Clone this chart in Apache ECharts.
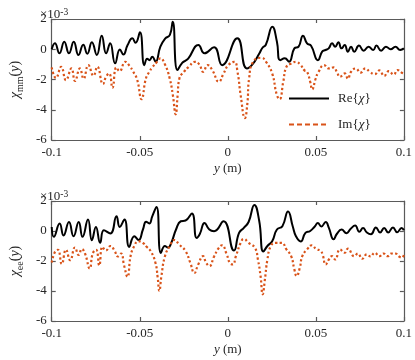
<!DOCTYPE html>
<html>
<head>
<meta charset="utf-8">
<script src="https://cdn.jsdelivr.net/npm/echarts@6/dist/echarts.min.js"></script>
<style>html,body{margin:0;padding:0;background:#fff}#c{width:415px;height:360px}</style>
</head>
<body>
<div id="c"></div>
<script>
// values in units of 1e-3
const xTicks = [-0.1, -0.05, 0, 0.05, 0.1];
const yTicks = [-6, -4, -2, 0, 2];
const seriesNames = ['Re{χ}', 'Im{χ}'];

const reTop = [[-0.1,0.0],[-0.0982,0.39],[-0.0956,-0.27],[-0.0929,0.50],[-0.0902,-0.27],[-0.0875,0.50],[-0.0848,-0.38],[-0.0821,0.30],[-0.0798,-0.30],[-0.0772,0.46],[-0.0744,-0.38],[-0.0716,0.90],[-0.0691,-0.27],[-0.0668,0.39],[-0.0640,-0.93],[-0.0613,-0.01],[-0.0593,-0.35],[-0.0569,0.28],[-0.0542,0.72],[-0.0524,0.43],[-0.0499,1.12],[-0.0474,-1.05],[-0.0458,-0.62],[-0.0445,-0.72],[-0.0429,-0.50],[-0.0410,-0.82],[-0.0383,0.17],[-0.0356,0.70],[-0.0329,0.95],[-0.0313,1.82],[-0.0286,-1.38],[-0.0259,-0.90],[-0.0240,-0.75],[-0.0224,-0.60],[-0.0167,0.28],[-0.0132,-0.27],[-0.0078,0.13],[-0.0032,-1.05],[0.0054,0.72],[0.0108,-1.27],[0.0140,-1.00],[0.0178,-0.30],[0.0197,0.10],[0.0216,0.30],[0.0253,1.49],[0.0279,0.50],[0.0297,-0.72],[0.0324,-0.60],[0.0348,-0.82],[0.0378,0.06],[0.0402,0.17],[0.0427,0.90],[0.0450,0.39],[0.0473,0.23],[0.0512,-0.72],[0.0536,-0.16],[0.0555,-0.05],[0.0573,0.06],[0.0592,0.39],[0.0610,0.17],[0.0628,0.46],[0.0646,0.06],[0.0664,0.28],[0.0682,-0.16],[0.0700,0.17],[0.0718,-0.16],[0.0745,0.24],[0.0772,-0.10],[0.0799,0.17],[0.0826,-0.05],[0.0844,0.24],[0.0871,-0.10],[0.0898,0.17],[0.0925,0.00],[0.0952,0.17],[0.0979,-0.05],[0.1,0.06]];

const imTop = [[-0.1,-1.2],[-0.0976,-1.9],[-0.0946,-1.16],[-0.0919,-2.04],[-0.0888,-1.27],[-0.0868,-2.1],[-0.0840,-1.27],[-0.0819,-1.95],[-0.0792,-1.05],[-0.0763,-1.75],[-0.0741,-1.15],[-0.0709,-2.3],[-0.0691,-1.8],[-0.0674,-1.6],[-0.0655,-2.55],[-0.0633,-1.2],[-0.0615,-1.45],[-0.0582,-0.83],[-0.0558,-1.1],[-0.0539,-1.45],[-0.0515,-2.0],[-0.0490,-3.3],[-0.0465,-1.93],[-0.0446,-1.5],[-0.0429,-1.2],[-0.0402,-0.83],[-0.0383,-0.6],[-0.0357,-1.0],[-0.0330,-1.93],[-0.0312,-3.04],[-0.0296,-4.3],[-0.0285,-3.04],[-0.0275,-1.93],[-0.0249,-1.49],[-0.0222,-1.16],[-0.0186,-0.83],[-0.0162,-1.0],[-0.0140,-1.49],[-0.0114,-1.05],[-0.0087,-1.4],[-0.0051,-2.15],[-0.0024,-1.6],[0.0003,-1.05],[0.0037,-0.83],[0.0055,-1.49],[0.0073,-3.04],[0.0097,-4.55],[0.0111,-3.6],[0.0121,-1.93],[0.0144,-0.83],[0.0190,-0.56],[0.0217,-0.83],[0.0252,-1.6],[0.0278,-3.0],[0.0294,-3.3],[0.0315,-2.15],[0.0333,-1.16],[0.0360,-0.94],[0.0387,-0.83],[0.0414,-1.05],[0.0434,-1.38],[0.0450,-1.49],[0.0468,-2.15],[0.0479,-2.65],[0.0499,-1.95],[0.0515,-1.5],[0.0547,-1.05],[0.0574,-1.27],[0.0601,-1.2],[0.0619,-1.49],[0.0637,-1.82],[0.0664,-1.6],[0.0682,-1.95],[0.0700,-1.49],[0.0727,-1.27],[0.0754,-1.55],[0.0781,-1.27],[0.0808,-1.5],[0.0834,-1.65],[0.0861,-1.4],[0.0888,-1.76],[0.0915,-1.45],[0.0942,-1.68],[0.0964,-1.38],[0.0988,-1.55],[0.1,-1.6]];

const reBot = [[-0.1,0.27],[-0.0988,-0.39],[-0.0955,0.5],[-0.0933,-0.3],[-0.0902,0.6],[-0.0876,-0.35],[-0.0847,0.6],[-0.0825,-0.39],[-0.0794,0.76],[-0.0772,-0.61],[-0.0749,0.27],[-0.0725,-0.79],[-0.0704,0.05],[-0.0667,-0.17],[-0.0632,0.98],[-0.0614,0.27],[-0.0587,0.76],[-0.0560,-1.06],[-0.0531,-0.35],[-0.0507,-0.6],[-0.0482,0.1],[-0.0464,0.62],[-0.0446,0.5],[-0.0429,0.98],[-0.0405,1.6],[-0.0380,-1.46],[-0.0357,-1.0],[-0.0340,-1.1],[-0.0321,-0.79],[-0.0294,0.1],[-0.0267,0.65],[-0.0240,0.7],[-0.0204,1.16],[-0.0177,-0.46],[-0.0159,-0.2],[-0.0132,0.54],[-0.0105,0.1],[-0.0078,-0.01],[-0.0024,0.65],[0.0035,-1.3],[0.0064,-0.13],[0.0091,0.21],[0.0118,0.6],[0.0151,1.74],[0.0178,0.7],[0.0202,-1.37],[0.0225,-1.0],[0.0252,-0.68],[0.0279,0.1],[0.0310,0.32],[0.0342,1.3],[0.0369,0.3],[0.0387,-0.35],[0.0414,-0.7],[0.0441,-0.13],[0.0468,0.0],[0.0495,0.32],[0.0511,0.54],[0.0531,0.3],[0.0556,0.6],[0.0574,0.21],[0.0601,-0.55],[0.0619,-0.2],[0.0646,0.1],[0.0674,-0.15],[0.0698,0.15],[0.0723,0.36],[0.0747,-0.05],[0.0768,0.2],[0.0790,-0.1],[0.0813,-0.22],[0.0841,0.24],[0.0865,-0.1],[0.0888,0.2],[0.0911,-0.1],[0.0938,0.24],[0.0962,-0.08],[0.0987,0.2],[0.1,0.05]];

const imBot = [[-0.1,-2.1],[-0.0982,-1.4],[-0.0965,-1.25],[-0.0943,-2.2],[-0.0919,-1.25],[-0.0895,-1.95],[-0.0868,-1.1],[-0.0847,-1.6],[-0.0829,-1.2],[-0.0811,-1.5],[-0.0784,-2.5],[-0.0767,-1.5],[-0.0748,-1.25],[-0.0730,-2.3],[-0.0712,-1.05],[-0.0693,-1.3],[-0.0666,-1.0],[-0.0644,-1.3],[-0.0624,-1.7],[-0.0606,-1.5],[-0.0589,-2.3],[-0.0570,-3.05],[-0.0551,-1.6],[-0.0531,-1.0],[-0.0509,-0.68],[-0.0482,-0.8],[-0.0461,-1.05],[-0.0438,-1.34],[-0.0411,-2.12],[-0.0398,-3.12],[-0.0389,-4.0],[-0.0377,-3.0],[-0.0357,-1.68],[-0.0330,-1.01],[-0.0303,-0.6],[-0.0276,-0.9],[-0.0240,-1.34],[-0.0213,-2.12],[-0.0190,-2.8],[-0.0168,-2.23],[-0.0141,-1.68],[-0.0123,-2.12],[-0.0105,-2.34],[-0.0078,-1.7],[-0.0051,-1.12],[-0.0033,-0.95],[-0.0006,-1.56],[0.0011,-2.12],[0.0028,-2.23],[0.0046,-1.68],[0.0073,-0.79],[0.0091,-0.53],[0.0118,-0.79],[0.0154,-1.12],[0.0171,-1.9],[0.0186,-3.0],[0.0198,-4.22],[0.0211,-3.2],[0.0225,-1.9],[0.0244,-1.01],[0.0271,-0.79],[0.0306,-0.79],[0.0333,-1.23],[0.0360,-1.68],[0.0378,-2.56],[0.0391,-3.0],[0.0409,-2.45],[0.0423,-1.68],[0.0450,-1.23],[0.0477,-0.95],[0.0504,-1.23],[0.0526,-1.3],[0.0538,-1.56],[0.0556,-2.23],[0.0574,-1.9],[0.0592,-1.68],[0.0610,-1.9],[0.0637,-1.23],[0.0664,-1.45],[0.0682,-1.18],[0.0718,-1.68],[0.0739,-1.5],[0.0763,-1.85],[0.0790,-1.56],[0.0811,-1.7],[0.0834,-1.45],[0.0861,-1.68],[0.0884,-1.5],[0.0907,-1.68],[0.0930,-1.5],[0.0951,-1.5],[0.0973,-1.7],[0.0988,-1.78],[0.1,-1.6]];

const FONT = 'Liberation Serif';
const TXT = '#262626';
const AX = '#5a5a5a';
const ORANGE = '#D95319';

const chart = echarts.init(document.getElementById('c'), null, {renderer: 'canvas'});

function xAx(gi, pos, showLabel, withName) {
  return {
    type: 'value', gridIndex: gi, position: pos,
    min: xTicks[0], max: xTicks[xTicks.length - 1], interval: 0.05,
    axisLine: {show: true, onZero: false, lineStyle: {color: AX, width: 1.2}},
    axisTick: {show: true, inside: true, length: 4, lineStyle: {color: AX, width: 1.2}},
    axisLabel: {show: showLabel, margin: 6, color: TXT, fontFamily: FONT, fontSize: 13},
    splitLine: {show: false},
    name: withName ? '{i|y} (m)' : '',
    nameLocation: 'middle', nameGap: 22,
    nameTextStyle: {color: TXT, fontFamily: FONT, fontSize: 13,
      rich: {i: {fontStyle: 'italic', fontFamily: FONT, fontSize: 13, color: TXT}}}
  };
}
function yAx(gi, pos, showLabel, sub) {
  return {
    type: 'value', gridIndex: gi, position: pos,
    min: yTicks[0], max: yTicks[yTicks.length - 1], interval: 2,
    axisLine: {show: true, onZero: false, lineStyle: {color: AX, width: 1.2}},
    axisTick: {show: true, inside: true, length: 4, lineStyle: {color: AX, width: 1.2}},
    axisLabel: {show: showLabel, margin: 5, color: TXT, fontFamily: FONT, fontSize: 13},
    splitLine: {show: false},
    name: sub ? '{g|χ}{s|' + sub + '}{n|(}{i|y}{n|)}' : '',
    nameLocation: 'middle', nameGap: 25, nameRotate: 90,
    nameTextStyle: {color: TXT, fontFamily: FONT,
      rich: {
        g: {fontStyle: 'italic', fontFamily: FONT, fontSize: 14, color: TXT, lineHeight: 20},
        s: {fontFamily: FONT, fontSize: 10, color: TXT, lineHeight: 10, verticalAlign: 'bottom'},
        n: {fontFamily: FONT, fontSize: 14, color: TXT, lineHeight: 20},
        i: {fontStyle: 'italic', fontFamily: FONT, fontSize: 14, color: TXT, lineHeight: 20}
      }}
  };
}
function lineSeries(name, xi, yi, data, isIm) {
  return {
    name: name, type: 'line', xAxisIndex: xi, yAxisIndex: yi,
    data: data, showSymbol: false, symbol: 'none', smooth: 0.5,
    lineStyle: isIm ? {color: ORANGE, width: 2.2, type: [2.2, 2.4]} : {color: '#000', width: 2},
    itemStyle: {color: isIm ? ORANGE : '#000'},
    animation: false
  };
}
const richTitle = {
  n: {fontFamily: FONT, fontSize: 13, fontWeight: 'normal', color: TXT, lineHeight: 16},
  sup: {fontFamily: FONT, fontSize: 9.5, fontWeight: 'normal', color: TXT, lineHeight: 8, verticalAlign: 'top'}
};

chart.setOption({
  animation: false,
  backgroundColor: '#fff',
  title: [
    {text: '{n|×10}{sup|-3}', left: 35, top: 2, textStyle: {fontWeight: 'normal', rich: richTitle}},
    {text: '{n|×10}{sup|-3}', left: 35, top: 184, textStyle: {fontWeight: 'normal', rich: richTitle}}
  ],
  grid: [
    {left: 35, top: 19, width: 371, height: 121, containLabel: false},
    {left: 35, top: 201, width: 371, height: 120, containLabel: false}
  ],
  xAxis: [xAx(0, 'bottom', true, true), xAx(0, 'top', false, false), xAx(1, 'bottom', true, true), xAx(1, 'top', false, false)],
  yAxis: [yAx(0, 'left', true, 'mm'), yAx(0, 'right', false, null), yAx(1, 'left', true, 'ee'), yAx(1, 'right', false, null)],
  legend: {
    show: true, orient: 'vertical', left: 283, top: 87, itemWidth: 40, itemHeight: 14, itemGap: 13,
    itemStyle: {opacity: 0},
    data: [
      {name: seriesNames[0]},
      {name: seriesNames[1], lineStyle: {type: [5, 3]}}
    ],
    formatter: function (n) { return n.slice(0, 2) + '{{i|χ}}'; },
    textStyle: {fontFamily: FONT, fontSize: 13, color: TXT, padding: [0, 0, 0, 4],
      rich: {i: {fontStyle: 'italic', fontFamily: FONT, fontSize: 13, color: TXT}}}
  },
  series: [
    lineSeries(seriesNames[0], 0, 0, reTop, false),
    lineSeries(seriesNames[1], 0, 0, imTop, true),
    lineSeries(seriesNames[0], 2, 2, reBot, false),
    lineSeries(seriesNames[1], 2, 2, imBot, true)
  ]
});
</script>
</body>
</html>
